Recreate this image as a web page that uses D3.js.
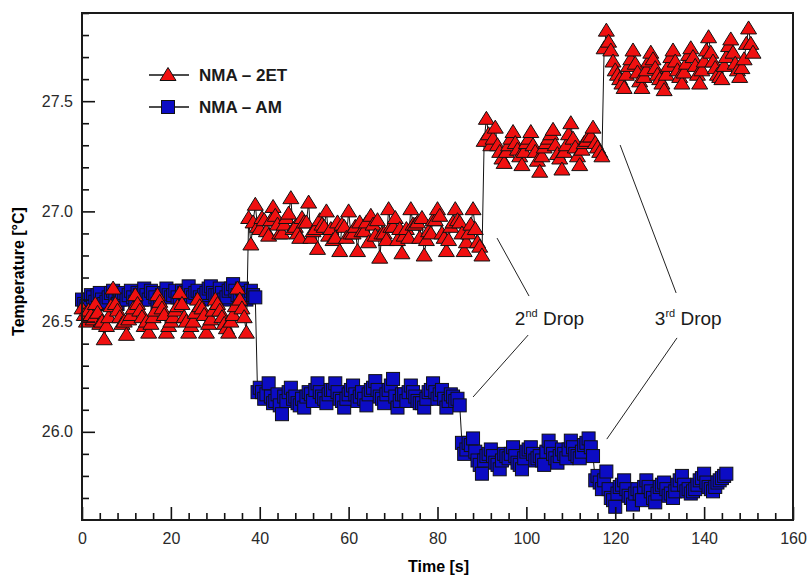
<!DOCTYPE html>
<html>
<head>
<meta charset="utf-8">
<script src="https://cdn.jsdelivr.net/npm/d3@7"></script>
<style>
  html, body { margin: 0; padding: 0; background: #fff; }
  svg { display: block; }
</style>
</head>
<body>
<svg id="chart" width="808" height="575"></svg>
<script>
// Series labels
const seriesNames = ["NMA \u2013 2ET", "NMA \u2013 AM"];

// NMA – 2ET temperatures [°C] on whole seconds, t = 0 … 151 s
const temp2ET = [
  26.56, 26.50, 26.53, 26.58, 26.49, 26.42, 26.52, 26.65, 26.55, 26.49,
  26.44, 26.53, 26.62, 26.55, 26.48, 26.45, 26.52, 26.62, 26.56, 26.45,
  26.50, 26.55, 26.63, 26.52, 26.45, 26.50, 26.60, 26.56, 26.45, 26.51,
  26.60, 26.55, 26.49, 26.45, 26.53, 26.65, 26.56, 26.45,
  26.85, 27.03, 26.92, 26.96, 26.89, 27.02, 26.94, 26.90, 26.97, 27.06,
  26.93, 26.88, 26.95, 27.04, 26.91, 26.83, 26.94, 27.00, 26.92, 26.88,
  26.82, 26.93, 27.00, 26.90, 26.82, 26.91, 26.95, 26.98, 26.89, 26.79,
  26.90, 27.01, 26.93, 26.87, 26.81, 26.92, 27.01, 26.94, 26.88, 26.80,
  26.91, 26.96, 27.01, 26.90, 26.82, 26.93, 27.01, 26.95, 26.82, 26.90,
  27.01, 26.86, 26.80,
  27.42, 27.30, 27.38, 27.27, 27.22, 27.30, 27.36, 27.28, 27.21, 27.31,
  27.36, 27.27, 27.18, 27.29, 27.33, 27.37, 27.26, 27.19, 27.30, 27.40,
  27.29, 27.21, 27.31, 27.34, 27.38, 27.29, 27.25,
  27.82, 27.73, 27.64, 27.60, 27.56, 27.66, 27.73, 27.63, 27.56, 27.64,
  27.72, 27.65, 27.60, 27.55, 27.66, 27.73, 27.64, 27.58, 27.67, 27.74,
  27.66, 27.58, 27.68, 27.79, 27.68, 27.62, 27.60, 27.70, 27.78, 27.67,
  27.61, 27.69, 27.83, 27.72
];

// NMA – 2ET temperatures [°C] on half seconds, t = 0.5 … 150.5 s
const temp2ETHalf = [
  26.53, 26.55, 26.51, 26.54, 26.50, 26.48, 26.57, 26.58, 26.52, 26.50,
  26.51, 26.56, 26.58, 26.52, 26.50, 26.49, 26.55, 26.59, 26.53, 26.48,
  26.52, 26.57, 26.58, 26.50, 26.48, 26.54, 26.57, 26.53, 26.49, 26.55,
  26.58, 26.52, 26.47, 26.50, 26.57, 26.60, 26.52,
  26.97,
  26.95, 26.93, 26.97, 26.91, 26.96, 26.98, 26.90, 26.94, 26.99, 26.92,
  26.90, 26.97, 26.95, 26.88, 26.92, 26.96, 26.93, 26.89, 26.87, 26.95,
  26.94, 26.88, 26.90, 26.93, 26.95, 26.91, 26.86, 26.94, 26.96, 26.90,
  26.87, 26.93, 26.97, 26.92, 26.89, 26.88, 26.94, 26.95, 26.97, 26.87,
  26.90, 26.96, 26.98, 26.88, 26.87, 26.95, 26.96, 26.90, 26.86, 26.94,
  26.92, 26.84,
  27.32,
  27.35, 27.33, 27.30, 27.24, 27.27, 27.33, 27.31, 27.25, 27.27, 27.33,
  27.30, 27.23, 27.25, 27.31, 27.35, 27.30, 27.24, 27.27, 27.35, 27.33,
  27.25, 27.28, 27.32, 27.34, 27.31, 27.27,
  27.74,
  27.77, 27.68, 27.62, 27.58, 27.62, 27.69, 27.67, 27.59, 27.61, 27.68,
  27.69, 27.62, 27.58, 27.62, 27.70, 27.68, 27.61, 27.63, 27.71, 27.70,
  27.62, 27.64, 27.73, 27.72, 27.65, 27.61, 27.66, 27.75, 27.72, 27.64,
  27.65, 27.76, 27.76
];

// NMA – AM temperatures [°C] on whole seconds, t = 0 … 145 s
const tempAM = [
  26.60, 26.57, 26.62, 26.59, 26.63, 26.58, 26.61, 26.64, 26.58, 26.62,
  26.60, 26.64, 26.59, 26.62, 26.65, 26.60, 26.63, 26.58, 26.62, 26.65,
  26.61, 26.64, 26.59, 26.63, 26.66, 26.61, 26.64, 26.60, 26.63, 26.66,
  26.62, 26.65, 26.60, 26.64, 26.67, 26.62, 26.65, 26.60, 26.64, 26.61,
  26.20, 26.15, 26.22, 26.13, 26.17, 26.08, 26.14, 26.20, 26.16, 26.12,
  26.11, 26.18, 26.14, 26.22, 26.16, 26.13, 26.19, 26.22, 26.15, 26.11,
  26.17, 26.21, 26.14, 26.18, 26.12, 26.19, 26.23, 26.16, 26.13, 26.19,
  26.24, 26.11, 26.17, 26.14, 26.21, 26.16, 26.13, 26.11, 26.18, 26.22,
  26.15, 26.19, 26.11, 26.17, 26.14, 26.12,
  25.90, 25.95, 25.97, 25.87, 25.81, 25.89, 25.92, 25.86, 25.83, 25.90,
  25.88, 25.93, 25.86, 25.83, 25.91, 25.93, 25.87, 25.89, 25.85, 25.96,
  25.90, 25.86, 25.92, 25.88, 25.96, 25.90, 25.88, 25.94, 25.97, 25.89,
  25.80, 25.74, 25.82, 25.70, 25.66, 25.75, 25.78, 25.71, 25.67, 25.74,
  25.69, 25.78, 25.73, 25.68, 25.75, 25.77, 25.71, 25.70, 25.76, 25.80,
  25.73, 25.72, 25.74, 25.78, 25.81, 25.75, 25.73, 25.77, 25.79, 25.81
];

// NMA – AM temperatures [°C] on half seconds, t = 0.5 … 144.5 s
const tempAMHalf = [
  26.58, 26.60, 26.61, 26.62, 26.60, 26.59, 26.63, 26.61, 26.60, 26.63,
  26.62, 26.61, 26.63, 26.60, 26.62, 26.64, 26.61, 26.60, 26.63, 26.62,
  26.62, 26.61, 26.64, 26.63, 26.62, 26.63, 26.61, 26.62, 26.65, 26.63,
  26.62, 26.63, 26.61, 26.65, 26.64, 26.62, 26.63, 26.61, 26.62,
  26.18,
  26.18, 26.17, 26.16, 26.14, 26.12, 26.16, 26.18, 26.15, 26.13, 26.15,
  26.16, 26.17, 26.19, 26.18, 26.15, 26.17, 26.19, 26.18, 26.14, 26.15,
  26.19, 26.17, 26.16, 26.15, 26.17, 26.20, 26.19, 26.15, 26.17, 26.21,
  26.16, 26.14, 26.17, 26.18, 26.18, 26.14, 26.13, 26.15, 26.19, 26.18,
  26.17, 26.15, 26.14, 26.16, 26.15,
  25.95,
  25.92, 25.94, 25.91, 25.85, 25.87, 25.90, 25.89, 25.85, 25.87, 25.89,
  25.90, 25.89, 25.85, 25.88, 25.92, 25.90, 25.88, 25.87, 25.91, 25.93,
  25.88, 25.89, 25.90, 25.92, 25.93, 25.89, 25.91, 25.95, 25.93,
  25.78,
  25.77, 25.78, 25.74, 25.69, 25.72, 25.76, 25.74, 25.70, 25.72, 25.72,
  25.75, 25.75, 25.70, 25.72, 25.76, 25.74, 25.72, 25.73, 25.78, 25.76,
  25.74, 25.73, 25.76, 25.79, 25.77, 25.74, 25.75, 25.78, 25.80
];

// Axis ticks
const xMajorTicks = [0, 20, 40, 60, 80, 100, 120, 140, 160];
const yMajorTicks = [26.0, 26.5, 27.0, 27.5];

// Callout labels and their leader lines, in data units (s, °C)
const callouts = [
  { main: "2", sup: "nd", rest: " Drop", t: 97.4, T: 26.485,
    leaders: [[93.4, 26.879, 100.6, 26.616], [100.4, 26.439, 88.0, 26.158]] },
  { main: "3", sup: "rd", rest: " Drop", t: 128.9, T: 26.485,
    leaders: [[121.1, 27.301, 133.7, 26.630], [133.9, 26.426, 118.1, 25.967]] }
];

const svg = d3.select("#chart");
const FONT = "'Liberation Sans', Arial, Helvetica, sans-serif";
const margin = { left: 82, right: 15, top: 13, bottom: 55 };
const W = 808, H = 575;

const x = d3.scaleLinear().domain([0, 160]).range([margin.left, W - margin.right]);
const y = d3.scaleLinear().domain([25.6, 27.9]).range([H - margin.bottom, margin.top]);

// Interleave whole- and half-second samples into one time-ordered record
function record(whole, half) {
  const a = whole.map((v, i) => ({ t: i, v }));
  const b = half.map((v, i) => ({ t: i + 0.5, v }));
  return a.concat(b).sort((p, q) => p.t - q.t);
}
const pts2ET = record(temp2ET, temp2ETHalf);
const ptsAM = record(tempAM, tempAMHalf);

const line = d3.line().x(d => x(d.t)).y(d => y(d.v));

const trianglePath = "M0,-7.5L8,5.5L-8,5.5Z";
const SQ = 13;
const RED = "#f01010";
const BLUE = "#0c0cc4";

// NMA – AM series (drawn first, sits underneath)
svg.append("path").datum(ptsAM)
  .attr("d", line).attr("fill", "none").attr("stroke", "#111").attr("stroke-width", 1);
svg.append("g").selectAll("rect").data(ptsAM).join("rect")
  .attr("x", d => x(d.t) - SQ / 2).attr("y", d => y(d.v) - SQ / 2)
  .attr("width", SQ).attr("height", SQ)
  .attr("fill", BLUE).attr("stroke", "#111").attr("stroke-width", 1);

// NMA – 2ET series
svg.append("path").datum(pts2ET)
  .attr("d", line).attr("fill", "none").attr("stroke", "#111").attr("stroke-width", 1);
svg.append("g").selectAll("path").data(pts2ET).join("path")
  .attr("d", trianglePath)
  .attr("transform", d => `translate(${x(d.t)},${y(d.v)})`)
  .attr("fill", RED).attr("stroke", "#111").attr("stroke-width", 1);

// Axes with inward ticks
const yMinor = d3.range(257, 280).map(k => k / 10).filter(v => !yMajorTicks.some(m => Math.abs(m - v) < 1e-6));
const xMinor = d3.range(0, 161, 4).filter(v => !xMajorTicks.includes(v));

function styleAxis(g) {
  g.select(".domain").remove();
  g.selectAll(".tick line").attr("stroke", "#111").attr("stroke-width", 1.6);
  g.selectAll(".tick text").attr("fill", "#2a2a2a").style("font-family", FONT).style("font-size", "16px");
}

svg.append("g").attr("transform", `translate(${margin.left},0)`)
  .call(d3.axisLeft(y).tickValues(yMajorTicks).tickSize(-13).tickPadding(9).tickFormat(d3.format(".1f")))
  .call(styleAxis);
svg.append("g").attr("transform", `translate(${margin.left},0)`)
  .call(d3.axisLeft(y).tickValues(yMinor).tickSize(-7).tickFormat(""))
  .call(styleAxis);
svg.append("g").attr("transform", `translate(0,${H - margin.bottom})`)
  .call(d3.axisBottom(x).tickValues(xMajorTicks).tickSize(-13).tickPadding(13).tickFormat(d3.format("d")))
  .call(styleAxis);
svg.append("g").attr("transform", `translate(0,${H - margin.bottom})`)
  .call(d3.axisBottom(x).tickValues(xMinor).tickSize(-7).tickFormat(""))
  .call(styleAxis);

// Plot frame
svg.append("rect")
  .attr("x", x(0)).attr("y", y(27.9))
  .attr("width", x(160) - x(0)).attr("height", y(25.6) - y(27.9))
  .attr("fill", "none").attr("stroke", "#1a1a1a").attr("stroke-width", 2);

// Axis titles
svg.append("text")
  .attr("x", (x(0) + x(160)) / 2 + 1).attr("y", 572)
  .attr("text-anchor", "middle")
  .style("font-family", FONT).style("font-size", "16px").style("font-weight", "bold")
  .text("Time [s]");
svg.append("text")
  .attr("transform", `translate(24,${(y(25.6) + y(27.9)) / 2 + 5}) rotate(-90)`)
  .attr("text-anchor", "middle")
  .style("font-family", FONT).style("font-size", "16px").style("font-weight", "bold")
  .text("Temperature [\u00B0C]");

// Callouts
callouts.forEach(c => {
  c.leaders.forEach(([t1, v1, t2, v2]) => {
    svg.append("line")
      .attr("x1", x(t1)).attr("y1", y(v1)).attr("x2", x(t2)).attr("y2", y(v2))
      .attr("stroke", "#222").attr("stroke-width", 1);
  });
  const txt = svg.append("text")
    .attr("x", x(c.t)).attr("y", y(c.T))
    .style("font-family", FONT).style("font-size", "19px").attr("fill", "#1a1a1a");
  txt.append("tspan").text(c.main);
  txt.append("tspan").attr("dy", -8).style("font-size", "11px").text(c.sup);
  txt.append("tspan").attr("dy", 8).text(c.rest);
});

// Legend
const legend = svg.append("g");
[0, 1].forEach(i => {
  const ly = 75 + i * 32;
  legend.append("line").attr("x1", 149).attr("x2", 189).attr("y1", ly).attr("y2", ly)
    .attr("stroke", "#111").attr("stroke-width", 1.5);
  if (i === 0) {
    legend.append("path").attr("d", trianglePath).attr("transform", `translate(168,${ly})`)
      .attr("fill", RED).attr("stroke", "#111").attr("stroke-width", 1);
  } else {
    legend.append("rect").attr("x", 168 - 6.5).attr("y", ly - 6.5).attr("width", 13).attr("height", 13)
      .attr("fill", BLUE).attr("stroke", "#111").attr("stroke-width", 1);
  }
  legend.append("text").attr("x", 199).attr("y", ly + 6)
    .style("font-family", FONT).style("font-size", "17px").style("font-weight", "bold")
    .attr("fill", "#1a1a1a")
    .text(seriesNames[i]);
});
</script>
</body>
</html>
